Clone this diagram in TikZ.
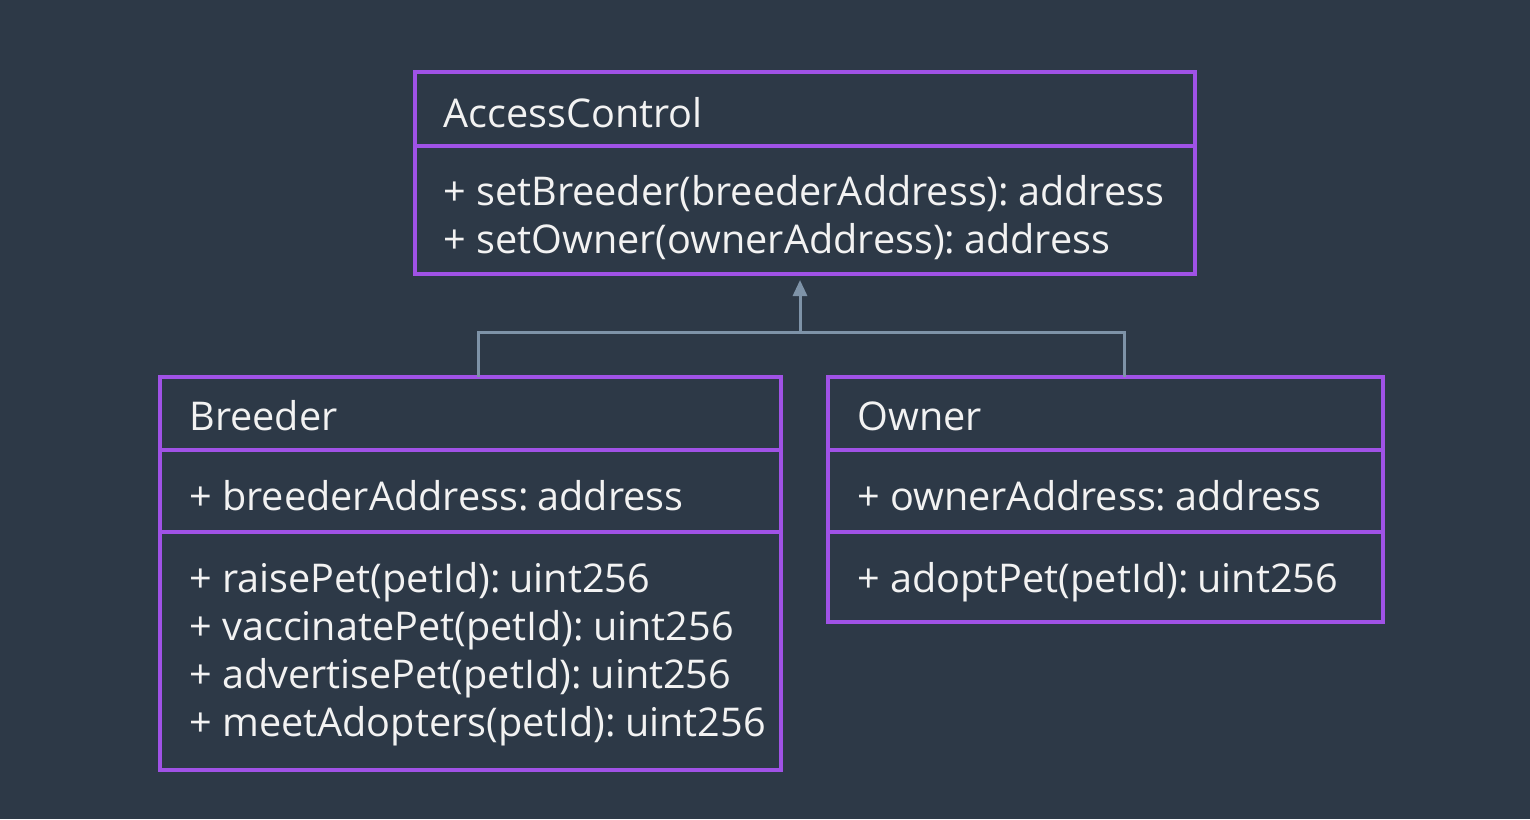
\documentclass[tikz,border=0pt]{standalone}
\usepackage{fontspec}
\setmainfont{Open Sans}
\usepackage{xcolor}
\usetikzlibrary{arrows.meta}

\definecolor{bgdark}{HTML}{2D3947}
\definecolor{umlpurple}{HTML}{A052E6}
\definecolor{linkgray}{HTML}{7E93A8}
\definecolor{txtwhite}{HTML}{F2F2F2}

\begin{document}
\begin{tikzpicture}[x=0.5pt,y=-0.5pt,
    classbox/.style={draw=umlpurple,line width=2pt,inner sep=0pt,outer sep=0pt},
    divider/.style={umlpurple,line width=2pt},
    member/.style={anchor=base west,inner sep=0pt,text=txtwhite,font=\fontsize{19.8}{24}\selectfont},
    inherit/.style={linkgray,line width=1.5pt}]
  % --- Background ---
  \fill[bgdark] (0,0) rectangle (1530,819);
  \useasboundingbox (0,0) rectangle (1530,819);

  % --- AccessControl (parent) ---
  \node[classbox,minimum width=390pt,minimum height=101pt] (ac) at (805,173) {};
  \draw[divider] (ac.west |- 0,146) -- (ac.east |- 0,146);
  \node[member] (acname) at (443,127) {AccessControl};
  \node[member] (acm1) at (443,205) {+ setBreeder(breederAddress):\hspace{-0.12em} address};
  \node[member] (acm2) at (443,253) {+ setOwner(ownerAddress):\hspace{-0.12em} address};

  % --- Breeder ---
  \node[classbox,minimum width=310.5pt,minimum height=196.5pt] (br) at (470.5,573.5) {};
  \draw[divider] (br.west |- 0,450) -- (br.east |- 0,450);
  \draw[divider] (br.west |- 0,532) -- (br.east |- 0,532);
  \node[member] (brname) at (189,430) {Breeder};
  \node[member] (bra1) at (189,510) {+ breederAddress:\hspace{-0.12em} address};
  \node[member] (brm1) at (189,592) {+ raisePet(petId):\hspace{-0.12em} uint256};
  \node[member] (brm2) at (189,640) {+ vaccinatePet(petId):\hspace{-0.12em} uint256};
  \node[member] (brm3) at (189,688) {+ advertisePet(petId):\hspace{-0.12em} uint256};
  \node[member] (brm4) at (189,736) {+ meetAdopters(petId):\hspace{-0.12em} uint256};

  % --- Owner ---
  \node[classbox,minimum width=277.5pt,minimum height=122.5pt] (ow) at (1105.5,499.5) {};
  \draw[divider] (ow.west |- 0,450) -- (ow.east |- 0,450);
  \draw[divider] (ow.west |- 0,532) -- (ow.east |- 0,532);
  \node[member] (owname) at (857,430) {Owner};
  \node[member] (owa1) at (857,510) {+ ownerAddress:\hspace{-0.12em} address};
  \node[member] (owm1) at (857,592) {+ adoptPet(petId):\hspace{-0.12em} uint256};

  % --- Inheritance links ---
  \coordinate (join) at (800,332);
  \draw[inherit] ([xshift=3.75pt]br.north) |- (join) -| ([xshift=9.25pt]ow.north);
  \draw[inherit,-{Triangle[width=7pt,length=8pt]},shorten >=3pt] (join) -- ([xshift=-2.5pt]ac.south);
\end{tikzpicture}
\end{document}
